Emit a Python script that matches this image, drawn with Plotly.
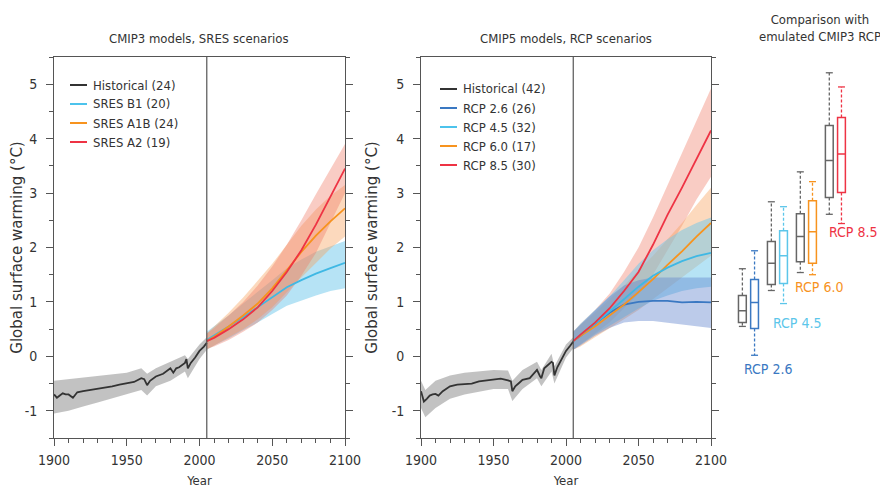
import plotly.graph_objects as go

# ---------------- data ----------------
# CMIP3 historical multi-model mean and spread
cmip3_hist_years = [1900,1902,1904,1906,1908,1910,1913,1916,1920,1925,1930,1935,1940,1945,1950,1955,1960,1962,1964,1966,1970,1975,1980,1982,1984,1986,1990,1991,1992,1994,1997,2000,2003,2005]
cmip3_hist_vals = [-0.70,-0.76,-0.72,-0.68,-0.70,-0.70,-0.76,-0.66,-0.64,-0.62,-0.60,-0.57,-0.55,-0.52,-0.50,-0.47,-0.40,-0.42,-0.53,-0.45,-0.37,-0.32,-0.22,-0.30,-0.22,-0.20,-0.12,-0.05,-0.22,-0.12,-0.02,0.10,0.18,0.25]
cmip3_band_years = [1900,1910,1920,1930,1940,1950,1960,1964,1970,1980,1990,1992,2000,2005]
cmip3_band_lo = [-1.05,-1.00,-0.92,-0.85,-0.78,-0.70,-0.62,-0.72,-0.55,-0.45,-0.28,-0.40,-0.05,0.12]
cmip3_band_hi = [-0.45,-0.42,-0.38,-0.35,-0.33,-0.30,-0.22,-0.32,-0.22,-0.10,0.02,-0.05,0.22,0.35]

# CMIP5 historical
cmip5_hist_years = [1900,1902,1904,1906,1908,1910,1912,1915,1920,1925,1930,1935,1940,1945,1950,1955,1960,1962,1963,1965,1968,1970,1975,1980,1982,1983,1985,1990,1991,1992,1994,1997,2000,2003,2005]
cmip5_hist_vals = [-0.64,-0.83,-0.78,-0.72,-0.70,-0.69,-0.72,-0.64,-0.55,-0.52,-0.51,-0.50,-0.46,-0.44,-0.42,-0.41,-0.44,-0.46,-0.64,-0.55,-0.48,-0.43,-0.40,-0.25,-0.36,-0.40,-0.22,-0.10,-0.12,-0.35,-0.20,-0.05,0.10,0.20,0.27]
cmip5_band_years = [1900,1903,1910,1920,1930,1940,1950,1960,1963,1970,1980,1983,1990,1992,2000,2005]
cmip5_band_lo = [-0.95,-1.12,-0.95,-0.78,-0.70,-0.65,-0.60,-0.60,-0.82,-0.60,-0.40,-0.55,-0.28,-0.50,-0.02,0.15]
cmip5_band_hi = [-0.45,-0.62,-0.45,-0.35,-0.30,-0.27,-0.25,-0.26,-0.45,-0.25,-0.10,-0.25,0.05,-0.18,0.22,0.35]

# projections (2005-2100)
proj_years = [2005,2010,2020,2030,2040,2050,2060,2070,2080,2090,2100]

sres_b1 = [0.30,0.38,0.55,0.72,0.90,1.08,1.27,1.40,1.52,1.62,1.72]
sres_b1_lo = [0.12,0.20,0.33,0.48,0.62,0.78,0.93,1.03,1.12,1.20,1.25]
sres_b1_hi = [0.45,0.55,0.75,0.97,1.18,1.40,1.62,1.78,1.92,2.02,2.12]
sres_a1b = [0.28,0.36,0.55,0.75,0.97,1.25,1.58,1.92,2.22,2.48,2.72]
sres_a1b_lo = [0.12,0.20,0.35,0.50,0.68,0.90,1.18,1.45,1.72,1.98,2.20]
sres_a1b_hi = [0.42,0.55,0.80,1.08,1.38,1.70,2.05,2.40,2.70,2.95,3.15]
sres_a2 = [0.28,0.34,0.50,0.68,0.90,1.20,1.55,1.95,2.42,2.95,3.45]
sres_a2_lo = [0.14,0.18,0.30,0.45,0.62,0.85,1.12,1.48,1.90,2.45,3.00]
sres_a2_hi = [0.42,0.52,0.75,1.00,1.30,1.65,2.05,2.50,2.98,3.45,3.90]

rcp26 = [0.28,0.38,0.60,0.80,0.95,1.00,1.02,1.02,0.99,1.00,0.99]
rcp26_lo = [0.12,0.20,0.38,0.52,0.62,0.65,0.65,0.62,0.58,0.55,0.52]
rcp26_hi = [0.45,0.58,0.85,1.10,1.30,1.40,1.45,1.45,1.45,1.45,1.45]
rcp45 = [0.28,0.40,0.60,0.82,1.05,1.28,1.48,1.63,1.75,1.84,1.90]
rcp45_lo = [0.12,0.22,0.40,0.55,0.72,0.88,1.02,1.12,1.20,1.25,1.28]
rcp45_hi = [0.45,0.60,0.85,1.10,1.40,1.70,1.95,2.15,2.32,2.45,2.55]
rcp60 = [0.28,0.38,0.55,0.75,0.95,1.18,1.42,1.68,1.93,2.20,2.45]
rcp60_lo = [0.12,0.18,0.35,0.52,0.68,0.85,1.05,1.25,1.45,1.65,1.85]
rcp60_hi = [0.45,0.58,0.80,1.05,1.30,1.58,1.85,2.15,2.45,2.78,3.10]
rcp85 = [0.28,0.40,0.62,0.88,1.20,1.55,2.05,2.60,3.10,3.62,4.15]
rcp85_lo = [0.12,0.22,0.42,0.62,0.88,1.15,1.50,1.95,2.40,2.88,3.30]
rcp85_hi = [0.45,0.60,0.85,1.15,1.55,2.00,2.55,3.15,3.75,4.35,4.92]

# box-plot comparison (2090s warming)
box_labels = ["RCP 2.6", "RCP 4.5", "RCP 6.0", "RCP 8.5"]
cmip3_q1 = [0.62,1.32,1.74,2.92]
cmip3_med = [0.84,1.71,2.20,3.60]
cmip3_q3 = [1.12,2.11,2.62,4.24]
cmip3_lo = [0.55,1.21,1.54,2.61]
cmip3_hi = [1.61,2.84,3.39,5.21]
cmip5_q1 = [0.51,1.34,1.71,3.01]
cmip5_med = [0.99,1.85,2.29,3.72]
cmip5_q3 = [1.41,2.31,2.86,4.39]
cmip5_lo = [0.02,0.97,1.50,2.44]
cmip5_hi = [1.94,2.75,3.21,4.95]

y_tick_vals = [-1, 0, 1, 2, 3, 4, 5]
y_tick_text = ["-1", "0", "1", "2", "3", "4", "5"]
x_tick_vals = [1900, 1950, 2000, 2050, 2100]

legend_left = [("Historical (24)", "#333333"), ("SRES B1 (20)", "#4cc3ec"),
               ("SRES A1B (24)", "#f7931e"), ("SRES A2 (19)", "#ee3344")]
legend_right = [("Historical (42)", "#333333"), ("RCP 2.6 (26)", "#3a78c2"),
                ("RCP 4.5 (32)", "#4cc3ec"), ("RCP 6.0 (17)", "#f7931e"),
                ("RCP 8.5 (30)", "#ee3344")]

# ---------------- style ----------------
# the page body has an 8px margin, so the figure is sized to fit inside the window
OX, OY = 8, 8
FW, FH = 872, 480
NARROW = "DejaVu Sans Condensed, Liberation Sans Narrow, sans-serif"
REG = "DejaVu Sans, sans-serif"
TXT = "#333333"
AX = "#555555"
C_HIST = "#333333"; C_B = "#3a78c2"; C_C = "#3fb8e4"; C_O = "#f7931e"; C_R = "#ee3344"
F_HIST = "rgba(120,120,120,0.45)"
F_B = "rgba(95,130,205,0.42)"; F_C = "rgba(110,200,235,0.5)"
F_O = "rgba(248,160,90,0.40)"; F_R = "rgba(240,120,100,0.38)"

def px_x(p): return (p - OX) / FW
def px_y(p): return 1 - (p - OY) / FH

fig = go.Figure()

def band(xs, lo, hi, fill, xa, ya):
    fig.add_trace(go.Scatter(x=list(xs) + list(xs)[::-1], y=list(hi) + list(lo)[::-1],
                             fill="toself", fillcolor=fill, line=dict(width=0),
                             mode="lines", hoverinfo="skip", showlegend=False,
                             xaxis=xa, yaxis=ya))

def line(xs, ys, color, xa, ya, w=1.8):
    fig.add_trace(go.Scatter(x=xs, y=ys, mode="lines", line=dict(color=color, width=w),
                             showlegend=False, xaxis=xa, yaxis=ya))

# left panel
band(cmip3_band_years, cmip3_band_lo, cmip3_band_hi, F_HIST, "x", "y")
band(proj_years, sres_b1_lo, sres_b1_hi, F_C, "x", "y")
band(proj_years, sres_a1b_lo, sres_a1b_hi, F_O, "x", "y")
band(proj_years, sres_a2_lo, sres_a2_hi, F_R, "x", "y")
line(cmip3_hist_years, cmip3_hist_vals, C_HIST, "x", "y")
line(proj_years, sres_b1, C_C, "x", "y")
line(proj_years, sres_a1b, C_O, "x", "y")
line(proj_years, sres_a2, C_R, "x", "y")

# right panel
band(cmip5_band_years, cmip5_band_lo, cmip5_band_hi, F_HIST, "x2", "y2")
band(proj_years, rcp85_lo, rcp85_hi, F_R, "x2", "y2")
band(proj_years, rcp60_lo, rcp60_hi, F_O, "x2", "y2")
band(proj_years, rcp45_lo, rcp45_hi, F_C, "x2", "y2")
band(proj_years, rcp26_lo, rcp26_hi, F_B, "x2", "y2")
line(cmip5_hist_years, cmip5_hist_vals, C_HIST, "x2", "y2")
line(proj_years, rcp26, C_B, "x2", "y2")
line(proj_years, rcp60, C_O, "x2", "y2")
line(proj_years, rcp45, C_C, "x2", "y2")
line(proj_years, rcp85, C_R, "x2", "y2")

# box panel
box_colors = [C_B, "#5cc6ea", C_O, C_R]
GREY = "#666666"
OFF = 0.21
for i in range(len(box_labels)):
    for pos, q1, md, q3, lo, hi, col in [
        (i - OFF, cmip3_q1[i], cmip3_med[i], cmip3_q3[i], cmip3_lo[i], cmip3_hi[i], GREY),
        (i + OFF, cmip5_q1[i], cmip5_med[i], cmip5_q3[i], cmip5_lo[i], cmip5_hi[i], box_colors[i]),
    ]:
        fig.add_trace(go.Scatter(x=[pos, pos, None, pos, pos], y=[q3, hi, None, q1, lo],
                                 mode="lines", line=dict(color=col, width=1.3, dash="3px,2px"),
                                 showlegend=False, xaxis="x3", yaxis="y3", hoverinfo="skip"))
        fig.add_trace(go.Scatter(x=[pos, pos], y=[hi, lo], mode="markers",
                                 marker=dict(symbol="line-ew", size=5, line=dict(color=col, width=1.3)),
                                 showlegend=False, xaxis="x3", yaxis="y3", hoverinfo="skip"))
        fig.add_trace(go.Box(x=[pos], q1=[q1], median=[md], q3=[q3], lowerfence=[q1], upperfence=[q3],
                             width=0.27, line=dict(color=col, width=1.5), fillcolor="rgba(255,255,255,0)",
                             whiskerwidth=0, showlegend=False, xaxis="x3", yaxis="y3", hoverinfo="skip"))

lab_x_off = [-0.22, -0.22, -0.47, -0.29]
lab_y = [-0.24, 0.61, 1.28, 2.29]
for i, lab in enumerate(box_labels):
    fig.add_annotation(x=i + lab_x_off[i], y=lab_y[i], xref="x3", yref="y3", text=lab,
                       showarrow=False, xanchor="left", yanchor="middle",
                       font=dict(family=NARROW, size=14, color=box_colors[i]))

# axes
yd = [px_y(438), px_y(57)]
xcommon = dict(range=[1900, 2100], tickvals=x_tick_vals, ticks="outside", ticklen=7, tickwidth=1,
               tickcolor=AX, showline=True, linecolor=AX, linewidth=1, mirror=True, showgrid=False,
               zeroline=False, tickfont=dict(family=NARROW, size=14, color=TXT), ticklabelstandoff=2,
               automargin=False,
               minor=dict(dtick=10, ticks="outside", ticklen=4, tickcolor=AX, showgrid=False),
               title=dict(text="Year", font=dict(family=NARROW, size=13, color=TXT), standoff=14))
ycommon = dict(range=[-1.5, 5.5], tickvals=y_tick_vals, ticktext=y_tick_text, ticks="outside", ticklen=7,
               tickwidth=1, tickcolor=AX, showline=True, linecolor=AX, linewidth=1, mirror="ticks",
               showgrid=False, zeroline=False, tickfont=dict(family=NARROW, size=14, color=TXT),
               ticklabelstandoff=6, automargin=False,
               minor=dict(dtick=0.5, ticks="outside", ticklen=4, tickcolor=AX, showgrid=False),
               domain=yd,
               title=dict(text="Global surface warming (°C)", font=dict(family=REG, size=15, color=TXT), standoff=10))

fig.update_layout(
    width=FW, height=FH, margin=dict(l=0, r=0, t=0, b=0),
    paper_bgcolor="white", plot_bgcolor="white", showlegend=False,
    xaxis=dict(domain=[px_x(54), px_x(345)], anchor="y", **xcommon),
    yaxis=dict(anchor="x", **ycommon),
    xaxis2=dict(domain=[px_x(421), px_x(711)], anchor="y2", **xcommon),
    yaxis2=dict(anchor="x2", **ycommon),
    xaxis3=dict(domain=[px_x(725), px_x(880)], anchor="y3", range=[-0.81, 4.54], visible=False),
    yaxis3=dict(domain=yd, anchor="x3", range=[-1.5, 5.5], visible=False),
)

# 2005 divider
for xa, ya in [("x", "y"), ("x2", "y2")]:
    fig.add_shape(type="line", x0=2005, x1=2005, y0=-1.5, y1=5.5, xref=xa, yref=ya,
                  line=dict(color=AX, width=1.2))

# panel titles
for txt, cx in [("CMIP3 models, SRES scenarios", 199), ("CMIP5 models, RCP scenarios", 566)]:
    fig.add_annotation(x=px_x(cx), y=px_y(38), xref="paper", yref="paper", text=txt, showarrow=False,
                       xanchor="center", yanchor="middle", font=dict(family=NARROW, size=13, color=TXT))
fig.add_annotation(x=px_x(820), y=px_y(28), xref="paper", yref="paper",
                   text="Comparison with<br>emulated CMIP3 RCP", showarrow=False,
                   xanchor="center", yanchor="middle", font=dict(family=NARROW, size=13, color=TXT))

# custom legends
def legend(items, lx0, lx1, tx, ys):
    for (lab, col), yy in zip(items, ys):
        fig.add_shape(type="line", x0=px_x(lx0), x1=px_x(lx1), y0=px_y(yy), y1=px_y(yy),
                      xref="paper", yref="paper", line=dict(color=col, width=2))
        fig.add_annotation(x=px_x(tx), y=px_y(yy), xref="paper", yref="paper", text=lab,
                           showarrow=False, xanchor="left", yanchor="middle",
                           font=dict(family=NARROW, size=13, color=TXT))

legend(legend_left, 70, 87, 91, [85, 104, 123, 142])
legend(legend_right, 440, 457, 461, [89, 108, 127, 146, 165])

fig.write_html("out.html")
